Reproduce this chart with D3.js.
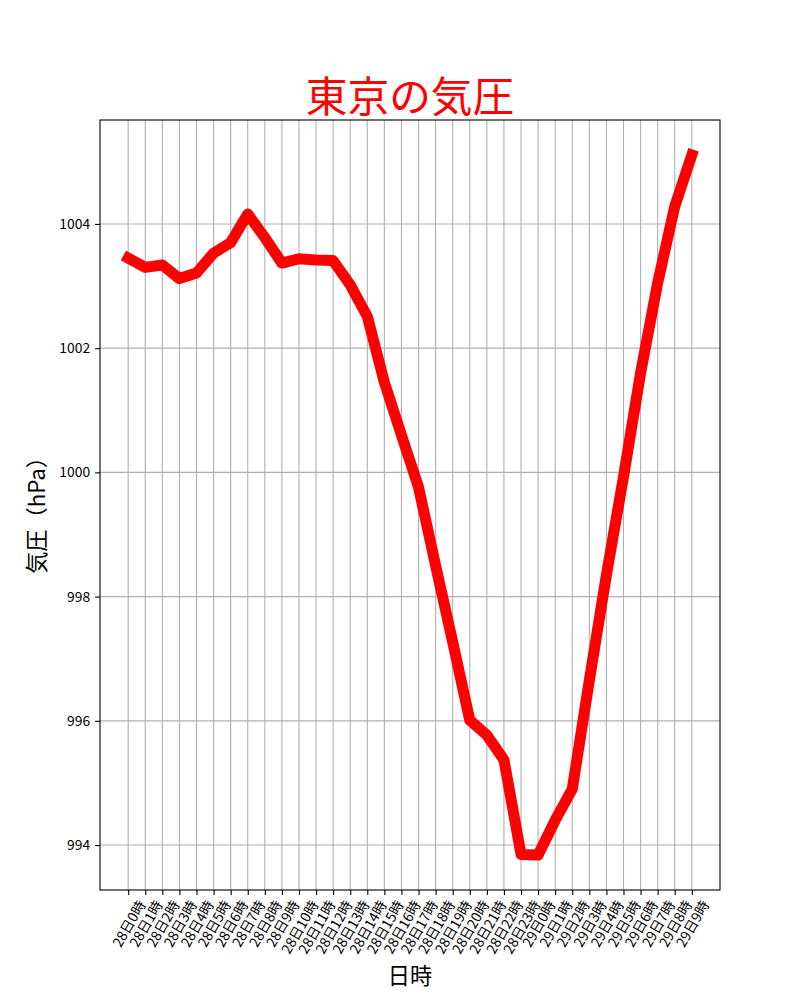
<!DOCTYPE html>
<html>
<head>
<meta charset="utf-8">
<script src="https://cdn.jsdelivr.net/npm/d3@7"></script>
<style>
  body { margin: 0; background: #fff; }
  text { font-family: "Noto Sans CJK JP", "Noto Sans", sans-serif; }
</style>
</head>
<body>
<script>
// hourly labels, 28th 0h .. 29th 9h
var labels = ["28日0時","28日1時","28日2時","28日3時","28日4時","28日5時","28日6時","28日7時",
  "28日8時","28日9時","28日10時","28日11時","28日12時","28日13時","28日14時","28日15時",
  "28日16時","28日17時","28日18時","28日19時","28日20時","28日21時","28日22時","28日23時",
  "29日0時","29日1時","29日2時","29日3時","29日4時","29日5時","29日6時","29日7時",
  "29日8時","29日9時"];

// pressure in hPa
var pressure = [1003.45, 1003.30, 1003.34, 1003.12, 1003.21, 1003.53, 1003.70, 1004.16,
  1003.78, 1003.37, 1003.44, 1003.42, 1003.41, 1003.02, 1002.51, 1001.45,
  1000.60, 999.76, 998.50, 997.27, 996.01, 995.77, 995.37, 993.85,
  993.84, 994.40, 994.90, 996.65, 998.35, 999.93, 1001.60, 1003.05,
  1004.28, 1005.11];

var yTicks = [994, 996, 998, 1000, 1002, 1004];

var W = 800, H = 1000;
var m = {left: 100, right: 720, top: 120, bottom: 890};

var svg = d3.select("body").append("svg")
  .attr("width", W).attr("height", H);

var x = d3.scalePoint().domain(labels).range([m.left, m.right]).padding(1.65);

var ymin = d3.min(pressure), ymax = d3.max(pressure), r = ymax - ymin;
var y = d3.scaleLinear().domain([ymin - 0.05 * r, ymax + 0.05 * r]).range([m.bottom, m.top]);

// grid
svg.append("g").selectAll("line.gx").data(labels).enter().append("line")
  .attr("x1", d => x(d)).attr("x2", d => x(d))
  .attr("y1", m.top).attr("y2", m.bottom)
  .style("stroke", "#b0b0b0").style("stroke-width", 1.1);
svg.append("g").selectAll("line.gy").data(yTicks).enter().append("line")
  .attr("x1", m.left).attr("x2", m.right)
  .attr("y1", d => y(d)).attr("y2", d => y(d))
  .style("stroke", "#b0b0b0").style("stroke-width", 1.1);

// the line
var line = d3.line().x((d, i) => x(labels[i])).y(d => y(d));
svg.append("path").datum(pressure)
  .attr("d", line)
  .style("fill", "none").style("stroke", "red").style("stroke-width", 11)
  .style("stroke-linejoin", "round").style("stroke-linecap", "square");

// frame
svg.append("rect")
  .attr("x", m.left).attr("y", m.top)
  .attr("width", m.right - m.left).attr("height", m.bottom - m.top)
  .style("fill", "none").style("stroke", "#000").style("stroke-width", 1.1);

// y axis
var yAxis = svg.append("g").attr("transform", "translate(" + m.left + ",0)")
  .call(d3.axisLeft(y).tickValues(yTicks).tickSize(4.9).tickPadding(4.9).tickFormat(d3.format("d")));
yAxis.select(".domain").remove();
yAxis.selectAll("line").style("stroke", "#000").style("stroke-width", 1.1);
yAxis.selectAll("text").style("font-size", "13.9px").style("fill", "#000")
  .style("font-family", "'Noto Sans CJK JP', sans-serif");

// x axis
var xAxis = svg.append("g").attr("transform", "translate(0," + m.bottom + ")")
  .call(d3.axisBottom(x).tickSize(4.9));
xAxis.select(".domain").remove();
xAxis.selectAll("line").style("stroke", "#000").style("stroke-width", 1.1);
xAxis.selectAll("text").remove();

// rotated tick labels, centred like matplotlib rotation=60
var fs = 13.9, ang = 60 * Math.PI / 180;
var tl = svg.append("g");
labels.forEach(function(lab) {
  var t = tl.append("text").text(lab)
    .style("font-size", fs + "px")
    .attr("text-anchor", "middle")
    .attr("dominant-baseline", "central");
  var L = t.node().getComputedTextLength();
  var bh = L * Math.sin(ang) + fs * Math.cos(ang);
  var cx = x(lab), cy = m.bottom + 4.9 + 4.9 + bh / 2 - 2;
  t.attr("transform", "translate(" + cx + "," + cy + ") rotate(-60)");
});

// title and axis labels
svg.append("text").text("東京の気圧")
  .attr("x", (m.left + m.right) / 2).attr("y", 112)
  .attr("text-anchor", "middle")
  .style("font-size", "41.7px").style("fill", "red");

svg.append("text").text("日時")
  .attr("x", (m.left + m.right) / 2).attr("y", 984)
  .attr("text-anchor", "middle")
  .style("font-size", "22.2px");

svg.append("text").text("気圧（hPa）")
  .attr("transform", "translate(45," + ((m.top + m.bottom) / 2 + 5) + ") rotate(-90)")
  .attr("text-anchor", "middle")
  .style("font-size", "22.2px");
</script>
</body>
</html>
